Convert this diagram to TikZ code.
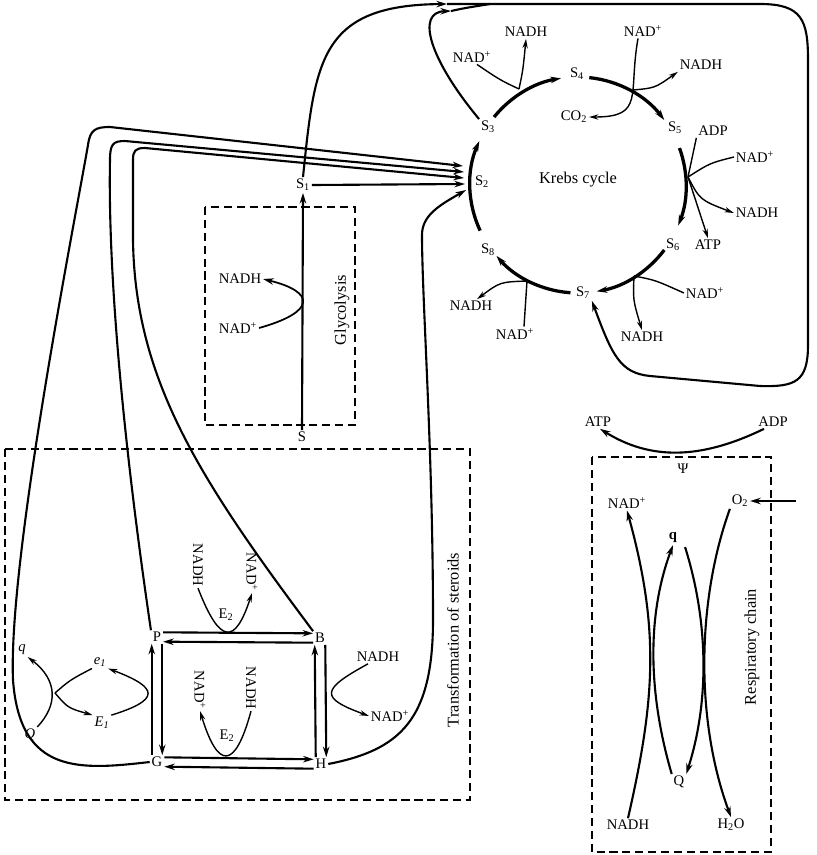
\documentclass[tikz,border=0pt]{standalone}
\usepackage{fontspec}
\setmainfont{Liberation Serif}
\usetikzlibrary{arrows.meta,calc}

\begin{document}
\begin{tikzpicture}[x=0.03cm,y=-0.03cm,>={Stealth[length=9pt,width=5.5pt]},
  every node/.style={font=\fontsize{12.5}{14}\selectfont,inner sep=1.5pt},
  big/.style={font=\fontsize{14}{16}\selectfont},
  conn/.style={line width=1.8pt},
  cyc/.style={line width=2.8pt,->},
  side/.style={line width=1.2pt,>={Stealth[length=8pt,width=4.5pt]}},
  zone/.style={line width=1.1pt,dash pattern=on 7pt off 4pt}]
  \useasboundingbox (0,0) rectangle (817,855);
  %% Krebs cycle
  \coordinate (kc) at (578,185);
  \node (s2) at (482,182) {S\textsubscript{2}};
  \node (s3) at (488,127) {S\textsubscript{3}};
  \node (s4) at (577,74) {S\textsubscript{4}};
  \node (s5) at (675,128) {S\textsubscript{5}};
  \node (s6) at (673,245) {S\textsubscript{6}};
  \node (s7) at (583,293) {S\textsubscript{7}};
  \node (s8) at (488,250) {S\textsubscript{8}};
  \node[big] (krebs) at (578,180) {Krebs cycle};
  \draw[cyc] ($(kc)+(-205:108)$) arc[start angle=-205,end angle=-156,radius=108];
  \draw[cyc] ($(kc)+(-141:108)$) arc[start angle=-141,end angle=-99,radius=108];
  \draw[cyc] ($(kc)+(-84:108)$) arc[start angle=-84,end angle=-37,radius=108];
  \draw[cyc] ($(kc)+(-20:108)$) arc[start angle=-20,end angle=22,radius=108];
  \draw[cyc] ($(kc)+(37:108)$) arc[start angle=37,end angle=80,radius=108];
  \draw[cyc] ($(kc)+(94:108)$) arc[start angle=94,end angle=139,radius=108];
  %% Side reactions of the cycle
  \node (nadpA) at (472,57) {NAD\textsuperscript{+}};
  \node (nadhA) at (526,32) {NADH};
  \node (nadpB) at (643,31) {NAD\textsuperscript{+}};
  \node (nadhB) at (701,65) {NADH};
  \node (co2) at (574,117) {CO\textsubscript{2}};
  \node (adp) at (713,131) {ADP};
  \node (nadpC) at (755,157) {NAD\textsuperscript{+}};
  \node (nadhC) at (757,213) {NADH};
  \node (atp) at (708,245) {ATP};
  \node (nadpD) at (705,293) {NAD\textsuperscript{+}};
  \node (nadhD) at (642,337) {NADH};
  \node (nadhE) at (471,306) {NADH};
  \node (nadpE) at (515,334) {NAD\textsuperscript{+}};
  \coordinate (jA) at (519,89);
  \coordinate (jB) at (633,90);
  \coordinate (jC) at (688,177);
  \coordinate (jD) at (634,276);
  \coordinate (jE) at (527,281);
  \draw[side] ($(nadpA.south)+(5,0)$) .. controls (500,80) .. (jA);
  \draw[side,->] (jA) .. controls (523,70) .. (nadhA.south);
  \draw[side,->] ($(nadpB.south)+(-5,0)$) .. controls (628,95) and (645,117) .. (co2.east);
  \draw[side,->] (jB) .. controls (655,88) .. (nadhB.south west);
  \draw[side] (adp.south west) -- (jC);
  \draw[side] (nadpC.west) .. controls (710,163) .. (jC);
  \draw[side,->] (jC) .. controls (700,200) .. (nadhC.west);
  \draw[side,->] (jC) -- (atp.north);
  \draw[side] (nadpD.west) .. controls (655,280) .. (jD);
  \draw[side,->] (jD) .. controls (633,300) .. (nadhD.north);
  \draw[side,->] (jE) .. controls (500,282) .. ($(nadhE.north)+(6,0)$);
  \draw[side] ($(nadpE.north)+(9,0)$) -- (jE);
  %% Glycolysis
  \node (s1) at (303,185) {S\textsubscript{1}};
  \node (s) at (302,437) {S};
  \draw[zone] (205,207) rectangle (355,425);
  \node[big,rotate=90] (glyc) at (342,310) {Glycolysis};
  \draw[conn,->] (s.north) -- (s1.south);
  \node (nadhG) at (240,279) {NADH};
  \node (nadpG) at (238,328) {NAD\textsuperscript{+}};
  \draw[line width=1.5pt,->] (nadpG.east) .. controls (316,312) and (316,292) .. (nadhG.east);
  %% Entry points at S2
  \coordinate (in1) at (463,166);
  \coordinate (in2) at (464,172);
  \coordinate (in3) at (464,178);
  \coordinate (in4) at (465,184);
  \coordinate (in5) at (466,190);
  \draw[conn,->] (s1.east) -- (in4);
  %% Loops over the top
  \coordinate (t1) at (447,4);
  \coordinate (t2) at (451,11);
  \draw[conn,->] (s1.north) .. controls (315,60) and (320,5) .. (t1);
  \draw[conn,->] (t1) -- (760,4) .. controls (802,4) and (808,20) .. (808,60) -- (808,345)
    .. controls (808,382) and (795,387) .. (760,386) -- (650,376)
    .. controls (620,373) and (612,355) .. (s7.south east);
  \draw[conn,->] (s3.north west) .. controls (430,60) and (415,12) .. (t2);
  \draw[conn] (t2) .. controls (465,8) .. (490,4);
  %% Transformation of steroids
  \draw[zone] (5,449) rectangle (470,800);
  \node[big,rotate=90] (steroids) at (453,640) {Transformation of steroids};
  \node (p) at (157,637) {P};
  \node (b) at (320,638) {B};
  \node (g) at (157,762) {G};
  \node (h) at (321,764) {H};
  \draw[conn,->] ([yshift=4pt]p.east) -- ([yshift=4pt]b.west);
  \draw[conn,->] ([yshift=-4pt]b.west) -- ([yshift=-4pt]p.east);
  \draw[conn,->] ([yshift=4pt]g.east) -- ([yshift=4pt]h.west);
  \draw[conn,->] ([yshift=-4pt]h.west) -- ([yshift=-4pt]g.east);
  \draw[conn,->] ([xshift=4.5pt]p.south) -- ([xshift=4.5pt]g.north);
  \draw[conn,->] ([xshift=-4.5pt]g.north) -- ([xshift=-4.5pt]p.south);
  \draw[conn,->] ([xshift=4.5pt]b.south) -- ([xshift=4.5pt]h.north);
  \draw[conn,->] ([xshift=-4.5pt]h.north) -- ([xshift=-4.5pt]b.south);
  %% E2 steps
  \node (e2a) at (226,615) {E\textsubscript{2}};
  \node[rotate=-90] (nadhP) at (198,565) {NADH};
  \node[rotate=-90] (nadpP) at (252,572) {NAD\textsuperscript{+}};
  \draw[side,->] (nadhP.east) .. controls (220,645) and (235,645) .. (nadpP.east);
  \node (e2b) at (227,736) {E\textsubscript{2}};
  \node[rotate=-90] (nadpQ) at (200,690) {NAD\textsuperscript{+}};
  \node[rotate=-90] (nadhQ) at (251,688) {NADH};
  \draw[side,->] (nadhQ.east) .. controls (235,770) and (218,770) .. (nadpQ.east);
  \node (nadhR) at (378,657) {NADH};
  \node (nadpR) at (390,716) {NAD\textsuperscript{+}};
  \draw[side,->] ($(nadhR.south)+(-10,0)$) .. controls (320,690) and (320,698) .. (nadpR.west);
  %% E1 steps
  \node (e1) at (100,662) {\textit{e}\textsubscript{\textit{1}}};
  \node (ebig) at (102,723) {\textit{E}\textsubscript{\textit{1}}};
  \node (qs) at (22,650) {\textit{q}};
  \node (qb) at (30,735) {\textit{Q}};
  \coordinate (jX) at (55,693);
  \draw[side,->] (ebig.north east) .. controls (160,700) and (160,688) .. (e1.south east);
  \draw[side,->] (qb.north east) .. controls (58,705) and (58,680) .. (qs.south east);
  \draw[side] (e1.south west) .. controls (70,680) .. (jX);
  \draw[side,->] (jX) .. controls (68,708) .. (ebig.north west);
  %% Steroids back to S2
  \draw[conn,->] (g.west) .. controls (80,770) and (20,775) .. (13,680)
    .. controls (8,560) and (75,220) .. (88,145) .. controls (90,130) and (95,127) .. (110,127) -- (in1);
  \draw[conn,->] (p.north west) .. controls (120,420) and (108,260) .. (110,160)
    .. controls (110,144) and (113,141) .. (125,141) -- (in2);
  \draw[conn,->] (b.north west) .. controls (200,480) and (135,380) .. (133,240) -- (133,160)
    .. controls (133,151) and (135,148) .. (145,148) -- (in3);
  \draw[conn,->] (h.east) .. controls (400,750) and (433,720) .. (433,620)
    .. controls (433,450) and (422,300) .. (422,235) .. controls (422,215) and (440,205) .. (in5);
  %% Respiratory chain
  \draw[zone] (592,457) rectangle (771,852);
  \node[big,rotate=90] (resp) at (752,647) {Respiratory chain};
  \node (psi) at (683,469) {Ψ};
  \node (atpR) at (598,422) {ATP};
  \node (adpR) at (773,422) {ADP};
  \draw[conn,->] ($(adpR.south)+(-9,0)$) .. controls (700,460) and (650,460) .. ($(atpR.south)+(2,0)$);
  \node (o2) at (740,501) {O\textsubscript{2}};
  \draw[conn,<-] (o2.east) -- ++(46,0);
  \node (nadpR2) at (627,503) {NAD\textsuperscript{+}};
  \node (qR) at (673,538) {\textbf{q}};
  \node (QR) at (679,782) {Q};
  \node (nadhR2) at (628,825) {NADH};
  \node (h2o) at (731,825) {H\textsubscript{2}O};
  \draw[conn,->] (nadhR2.north) .. controls (655,700) and (660,630) .. (nadpR2.south);
  \draw[conn,->] (QR.north west) .. controls (650,700) and (645,620) .. (qR.south);
  \draw[conn,->] (o2.south west) .. controls (697,600) and (695,720) .. (h2o.north);
  \draw[conn,->] ($(qR.south east)+(6,2)$) .. controls (708,620) and (710,700) .. (QR.north east);
\end{tikzpicture}
\end{document}
